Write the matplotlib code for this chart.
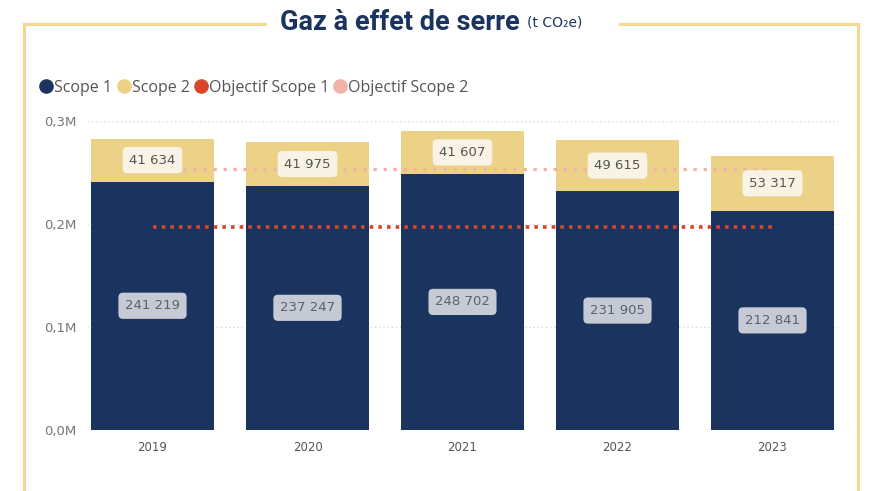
import matplotlib
matplotlib.use("Agg")
import matplotlib.pyplot as plt
from matplotlib.lines import Line2D
import numpy as np

years = ["2019", "2020", "2021", "2022", "2023"]
scope1 = [241219, 237247, 248702, 231905, 212841]
scope2 = [41634, 41975, 41607, 49615, 53317]
objectif_scope1 = [197000, 197000, 197000, 197000, 197000]
objectif_scope2 = [253500, 253500, 253500, 253500, 253500]
y_ticks = [0, 100000, 200000, 300000]
y_tick_labels = ["0,0M", "0,1M", "0,2M", "0,3M"]

C_S1 = "#1B335F"
C_S2 = "#EBD287"
C_O1 = "#D8452A"
C_O2 = "#F2B2A8"
C_FRAME = "#F2D890"

def fmt(v):
    return f"{v:,}".replace(",", " ")

W, H = 878, 491
fig = plt.figure(figsize=(W / 100, H / 100), dpi=100)
fig.patch.set_facecolor("white")

ax_left, ax_right = 87.4, 837.6
ax_top, ax_bottom = 121, 430
ax = fig.add_axes([ax_left / W, 1 - ax_bottom / H, (ax_right - ax_left) / W, (ax_bottom - ax_top) / H])

x = np.arange(len(years))
bw = 0.795
ax.bar(x, scope1, width=bw, color=C_S1, zorder=2)
ax.bar(x, scope2, width=bw, bottom=scope1, color=C_S2, zorder=2)

ax.plot(x, objectif_scope2, linestyle=(0, (1, 2.0)), color=C_O2, linewidth=2.4, zorder=3)
ax.plot(x, objectif_scope1, linestyle=(0, (1, 1.4)), color=C_O1, linewidth=2.6, zorder=3)

for i in range(len(years)):
    ax.text(x[i], scope1[i] / 2, fmt(scope1[i]), ha="center", va="center",
            fontsize=9.5, color="#5B6070", zorder=5,
            bbox=dict(boxstyle="round,pad=0.5,rounding_size=0.35", fc="#C6CAD4", ec="none"))
    ax.text(x[i], scope1[i] + scope2[i] / 2, fmt(scope2[i]), ha="center", va="center",
            fontsize=9.5, color="#555555", zorder=5,
            bbox=dict(boxstyle="round,pad=0.5,rounding_size=0.35", fc="#F8F3E4", ec="none"))

ax.set_xlim(-0.42, 4.42)
ax.set_ylim(0, 300000)
ax.set_yticks(y_ticks)
ax.set_yticklabels(y_tick_labels, fontsize=9.5, color="#777777")
ax.set_xticks(x)
ax.set_xticklabels(years, fontsize=8.5, color="#555555")
ax.tick_params(axis="both", length=0)
ax.tick_params(axis="y", pad=8)
ax.tick_params(axis="x", pad=8)
ax.grid(axis="y", linestyle=(0, (1, 2)), color="#D8D8D8", linewidth=1, zorder=0)
ax.set_axisbelow(True)
for s in ax.spines.values():
    s.set_visible(False)
ax.patch.set_alpha(0)

# legend
handles = [Line2D([], [], marker="o", linestyle="none", markersize=9.5, color=c)
           for c in [C_S1, C_S2, C_O1, C_O2]]
leg = fig.legend(handles, ["Scope 1", "Scope 2", "Objectif Scope 1", "Objectif Scope 2"],
                 loc="center left", bbox_to_anchor=(40 / W, 1 - 88 / H), ncol=4, frameon=False,
                 handletextpad=0.1, columnspacing=0.3, handlelength=0.8,
                 borderaxespad=0, borderpad=0, prop={"family": "Open Sans", "size": 11.5})
for t in leg.get_texts():
    t.set_color("#555555")

# frame
fy = 1 - 24 / H
fig.add_artist(Line2D([24 / W, 265 / W], [fy, fy], color=C_FRAME, linewidth=2.2))
fig.add_artist(Line2D([620 / W, 858 / W], [fy, fy], color=C_FRAME, linewidth=2.2))
fig.add_artist(Line2D([24 / W, 24 / W], [fy, 0], color=C_FRAME, linewidth=2.2))
fig.add_artist(Line2D([858 / W, 858 / W], [fy, 0], color=C_FRAME, linewidth=2.2))

# title
fig.text(520 / W, 1 - 22 / H, "Gaz à effet de serre", ha="right", va="center",
         fontsize=19.5, fontweight="bold", color="#1B335F", family=["Roboto", "DejaVu Sans"])
fig.text(527 / W, 1 - 23 / H, "(t CO₂e)", ha="left", va="center",
         fontsize=10, color="#1B335F", family=["DejaVu Sans"])

fig.savefig("out.png", dpi=100, facecolor="white")
